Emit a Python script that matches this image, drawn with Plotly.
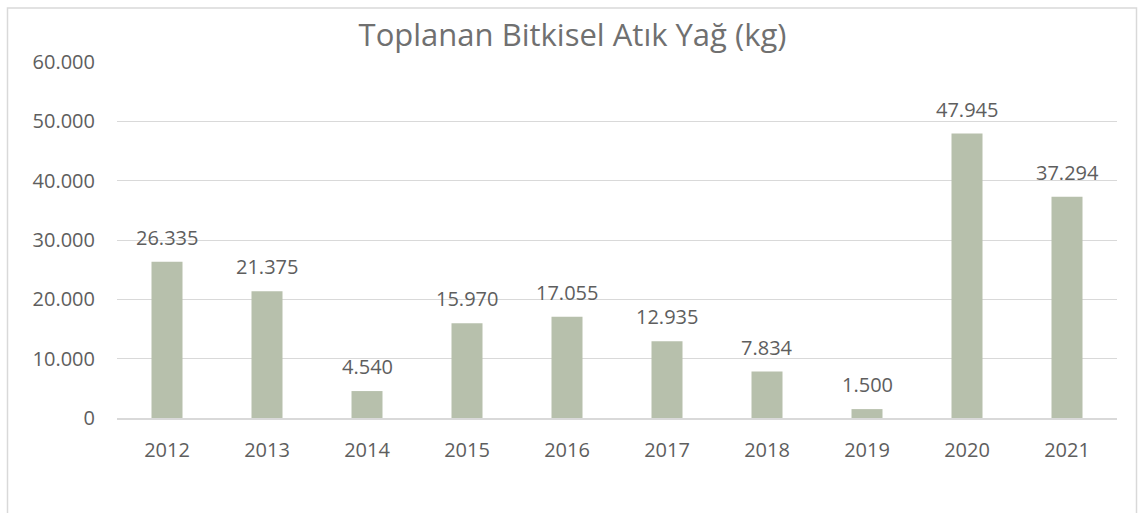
import plotly.graph_objects as go

# Collected vegetable waste oil per year (kg)
years = ["2012", "2013", "2014", "2015", "2016", "2017", "2018", "2019", "2020", "2021"]
amounts_kg = [26335, 21375, 4540, 15970, 17055, 12935, 7834, 1500, 47945, 37294]
y_ticks = [0, 10000, 20000, 30000, 40000, 50000, 60000]

TEXT = "#5e5e5e"
TITLE = "#707070"
GRID = "#d9d9d9"
BAR = "#b7c0ac"
FONT = "Open Sans"


def fmt_thousands(v):
    return f"{v:,}".replace(",", ".")


fig = go.Figure(
    go.Bar(
        x=years,
        y=amounts_kg,
        marker=dict(color=BAR, line=dict(width=0)),
        hoverinfo="skip",
    )
)

# value labels above each bar (category index positions)
for i, v in enumerate(amounts_kg):
    fig.add_annotation(
        x=i,
        y=v,
        text=fmt_thousands(v),
        showarrow=False,
        yanchor="bottom",
        yshift=9,
        font=dict(family=FONT, size=20, color=TEXT),
    )

fig.update_layout(
    width=1138,
    height=513,
    margin=dict(l=117, r=21, t=62, b=95),
    paper_bgcolor="white",
    plot_bgcolor="white",
    separators=",.",
    bargap=0.69,
    showlegend=False,
    font=dict(family=FONT, color=TEXT),
    title=dict(
        text="Toplanan Bitkisel Atık Yağ (kg)",
        x=(572.5 - 117) / 1000,
        xref="paper",
        xanchor="center",
        yref="container",
        y=1 - 35 / 513,
        yanchor="middle",
        font=dict(family=FONT, size=31, color=TITLE),
    ),
    shapes=[
        dict(
            type="rect",
            xref="paper",
            yref="paper",
            x0=-0.1095,
            x1=1.0195,
            y0=-0.30,
            y1=1.152,
            line=dict(color=GRID, width=1.5),
            fillcolor="rgba(0,0,0,0)",
            layer="below",
        )
    ],
)

fig.update_xaxes(
    type="category",
    range=[-0.5, len(years) - 0.5],
    showgrid=False,
    showline=True,
    linecolor=GRID,
    linewidth=1.5,
    ticks="",
    tickfont=dict(family=FONT, size=20, color=TEXT),
    ticklabelstandoff=13,
)

fig.update_yaxes(
    range=[0, 60000],
    tickvals=y_ticks,
    tickformat=",d",
    showgrid=True,
    gridcolor=GRID,
    gridwidth=1.3,
    zeroline=False,
    showline=False,
    ticks="",
    tickfont=dict(family=FONT, size=20, color=TEXT),
    ticklabelstandoff=21,
)

fig.write_html("out.html")
